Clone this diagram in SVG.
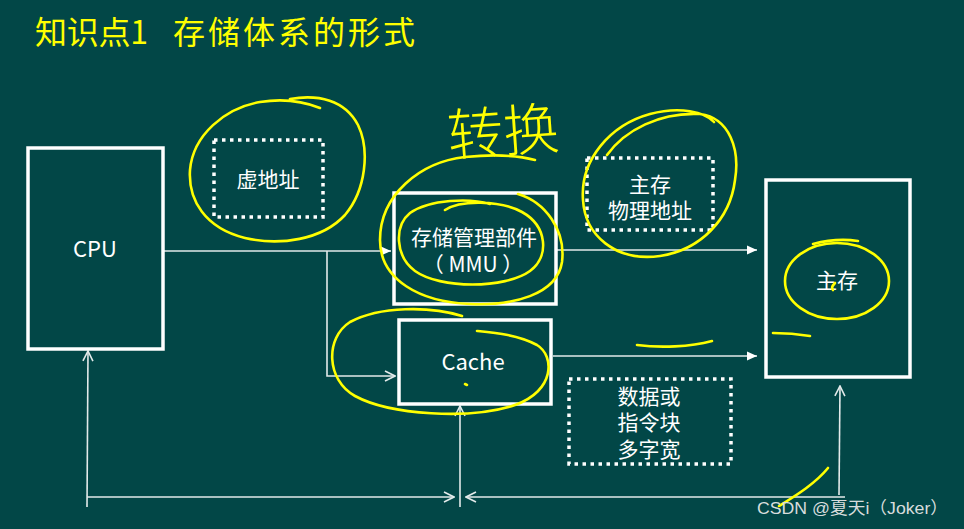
<svg xmlns="http://www.w3.org/2000/svg" width="964" height="529" viewBox="0 0 964 529">
<style>
.box{fill:none;stroke:#ffffff;stroke-width:3.5}
.dot{fill:none;stroke:#ffffff;stroke-width:3.5;stroke-dasharray:3.5 4.5}
.lbl{font-family:"Noto Sans CJK SC","Noto Sans",sans-serif;font-size:21px;fill:#ffffff;text-anchor:middle}
.stk{font-family:"Liberation Sans","Noto Sans CJK SC",sans-serif;font-size:21px;fill:#ffffff;text-anchor:middle}
.lat{font-family:"Noto Sans CJK SC","Noto Sans",sans-serif;font-size:22px;fill:#ffffff;text-anchor:middle}
.ln{fill:none;stroke:#e3eaea;stroke-width:1.6}
.hw{fill:none;stroke:#ffff00;stroke-width:2.6;stroke-linecap:round;stroke-linejoin:round}
</style>
<defs>
<marker id="tri" viewBox="0 0 10 10" refX="10" refY="5" markerWidth="10" markerHeight="10" markerUnits="userSpaceOnUse" orient="auto"><path d="M0,0.5 L10,5 L0,9.5 z" fill="#ffffff"/></marker>
<marker id="vee" viewBox="0 0 12 12" refX="11" refY="6" markerWidth="12" markerHeight="12" markerUnits="userSpaceOnUse" orient="auto"><path d="M1,1 L11,6 L1,11" fill="none" stroke="#e3eaea" stroke-width="1.6"/></marker>
</defs>
<rect x="0" y="0" width="964" height="529" fill="#024747"/>
<g id="title">
<text x="35" y="44" font-family="'Noto Sans CJK SC',sans-serif" font-size="32" fill="#ffff00" textLength="113" lengthAdjust="spacing">知识点1</text>
<text x="173" y="44" font-family="'Noto Sans CJK SC',sans-serif" font-size="32" fill="#ffff00" textLength="242" lengthAdjust="spacing">存储体系的形式</text>
</g>
<g id="connectors">
<path class="ln" d="M164,251 H391" marker-end="url(#tri)"/>
<path class="ln" d="M327,251 V376 H395" marker-end="url(#vee)"/>
<path class="ln" d="M557,250 H757" marker-end="url(#tri)"/>
<path class="ln" d="M553,356 H757" marker-end="url(#tri)"/>
<path class="ln" d="M87,507 L88,351" marker-end="url(#vee)"/>
<path class="ln" d="M87,497 H454" marker-end="url(#vee)"/>
<path class="ln" d="M460,507 V406" marker-end="url(#vee)"/>
<path class="ln" d="M845,497 H466" marker-end="url(#vee)"/>
<path class="ln" d="M839,495 L840,386" marker-end="url(#vee)"/>
</g>
<g id="cpu">
<rect class="box" x="28" y="148" width="135" height="201"/>
<text class="lat" x="95" y="257">CPU</text>
</g>
<g id="virtual-address">
<rect class="dot" x="214" y="140" width="109" height="77"/>
<text class="lbl" x="268" y="187">虚地址</text>
</g>
<g id="mmu">
<rect class="box" x="394" y="193" width="162" height="111"/>
<text class="lbl"><tspan x="474" y="245">存储管理部件</tspan><tspan x="473" y="272">（ MMU ）</tspan></text>
</g>
<g id="physical-address">
<rect class="dot" x="587" y="158" width="126" height="72"/>
<text class="stk"><tspan x="650" y="192">主存</tspan><tspan x="650" y="218">物理地址</tspan></text>
</g>
<g id="main-memory">
<rect class="box" x="766" y="180" width="144" height="197"/>
<text class="lbl" x="837" y="288">主存</text>
</g>
<g id="cache">
<rect class="box" x="399" y="320" width="152" height="84"/>
<text class="lat" x="473" y="370">Cache</text>
</g>
<g id="data-width">
<rect class="dot" x="569" y="379" width="162" height="85"/>
<text class="stk"><tspan x="649" y="404">数据或</tspan><tspan x="649" y="430">指令块</tspan><tspan x="649" y="457">多字宽</tspan></text>
</g>
<g id="annotations">
<path class="hw" d="M290,99 C318,94 345,100 358,125 C370,150 366,190 345,215 C322,240 280,246 245,238 C205,228 188,200 190,170 C193,135 225,108 260,102 C285,98 305,102 320,108"/>
<path class="hw" d="M518,194 C545,202 566,230 562,262 C557,295 512,306 470,304 C420,302 380,280 380,240 C380,195 420,162 465,157 C495,154 520,156 535,160"/>
<path class="hw" d="M445,210 C460,200 500,200 522,212 C547,226 550,256 530,271 C505,289 440,289 415,271 C395,256 394,226 410,213 C430,199 470,198 490,204"/>
<path class="hw" d="M607,155 C625,130 660,112 700,114 C730,118 740,150 735,180 C730,220 700,250 660,256 C615,262 585,235 583,200 C580,160 610,125 650,114 C680,106 705,112 714,122"/>
<ellipse class="hw" cx="837" cy="281" rx="52" ry="38"/>
<path class="hw" d="M813,244 C828,240 845,239 858,241"/>
<path class="hw" d="M835,283 C832,286 831,288 833,290"/>
<path class="hw" d="M773,333 C785,333 798,334 810,336"/>
<path class="hw" d="M462,316 C430,306 380,306 350,322 C325,338 326,380 355,396 C390,415 470,420 515,405 C555,391 555,356 537,345 C518,335 497,333 477,331"/>
<path class="hw" d="M465,384 L467,385"/>
<path class="hw" d="M637,345 C660,348 690,347 712,341"/>
<path class="hw" d="M779,506 C795,496 815,484 828,468"/>
<text x="503" y="152" font-family="'Noto Sans CJK SC',sans-serif" font-size="56" font-weight="300" fill="#ffff00" text-anchor="middle" transform="rotate(-4 503 130)">转换</text>
</g>
<text x="757" y="514" font-family="'Liberation Sans','Noto Sans CJK SC',sans-serif" font-size="17" fill="#d8dddd" textLength="191" lengthAdjust="spacingAndGlyphs">CSDN @夏天i（Joker）</text>
</svg>
